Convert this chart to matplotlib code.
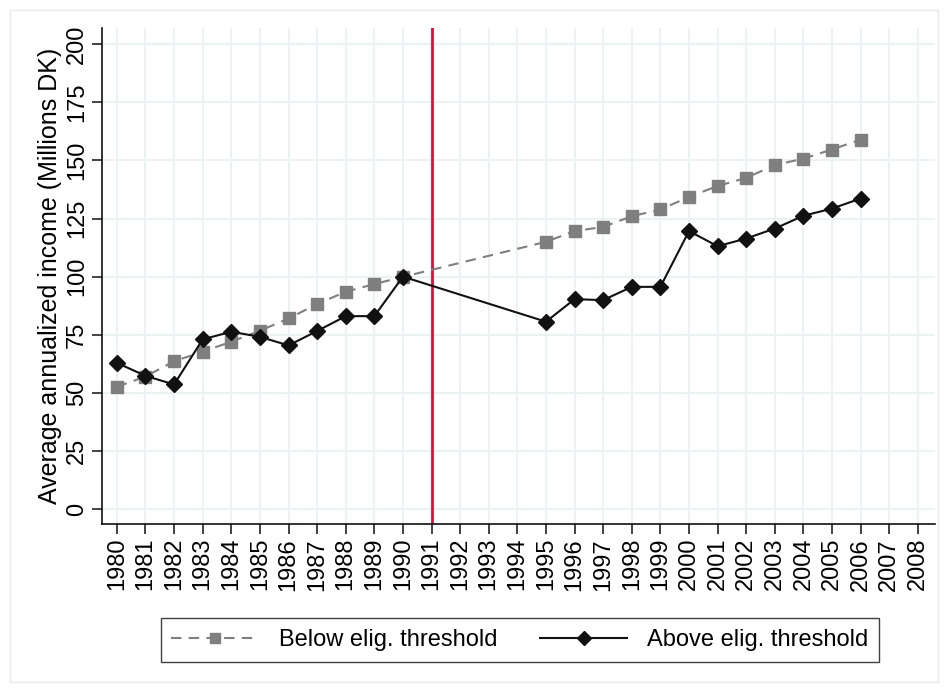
import numpy as np
import matplotlib.pyplot as plt
from matplotlib.patches import Rectangle

plt.rcParams['font.family'] = ['Liberation Sans', 'DejaVu Sans']

years = [1980, 1981, 1982, 1983, 1984, 1985, 1986, 1987, 1988, 1989, 1990,
         1995, 1996, 1997, 1998, 1999, 2000, 2001, 2002, 2003, 2004, 2005, 2006]
below = [52.6, 57.0, 63.6, 67.7, 72.0, 76.7, 82.0, 88.2, 93.5, 96.8, 99.9,
         115.0, 119.6, 121.4, 126.0, 128.9, 134.3, 139.0, 142.5, 148.0, 150.8, 154.7, 159.0]
above = [62.9, 57.3, 53.6, 73.0, 76.3, 74.1, 70.4, 76.6, 83.0, 83.0, 100.0,
         80.6, 90.3, 89.9, 95.6, 95.6, 119.6, 113.1, 116.4, 120.7, 126.2, 129.3, 133.6]
xticks = list(range(1980, 2009))
yticks = [0, 25, 50, 75, 100, 125, 150, 175, 200]
cutoff = 1991

fig = plt.figure(figsize=(9.48, 6.92), dpi=100)
fig.patches.append(Rectangle((0.011, 0.014), 0.978, 0.972, transform=fig.transFigure,
                             fill=False, edgecolor='#e6eaec', lw=1))
ax = fig.add_axes([102/948, 1 - 524/692, (935-102)/948, (524-28)/692])

ax.plot(years, below, color='#7f7f7f', ls=(0, (5, 3.5)), lw=1.5, marker='s',
        ms=8.5, mec='#7f7f7f', mfc='#7f7f7f', label='Below elig. threshold', zorder=3)
ax.plot(years, above, color='#111111', lw=1.5, marker='D', ms=8.5,
        mec='#111111', mfc='#111111', label='Above elig. threshold', zorder=4)
ax.axvline(cutoff, color='#d0143c', lw=2, zorder=2)

ax.set_xlim(1979.48, 2008.6)
ax.set_ylim(-6.45, 207)
ax.set_xticks(xticks)
ax.set_xticklabels([str(y) for y in xticks], rotation=90, fontsize=17)
ax.set_yticks(yticks)
ax.set_yticklabels([str(v) for v in yticks], rotation=90, va='center', fontsize=17)
ax.set_ylabel('Average annualized income (Millions DK)', fontsize=18, labelpad=3)
ax.grid(True, color='#eaf2f3', lw=1.5, zorder=0)
ax.set_axisbelow(True)
ax.tick_params(direction='out', length=7, width=1.2, color='#222222', pad=3)
for s in ['top', 'right']:
    ax.spines[s].set_visible(False)
for s in ['left', 'bottom']:
    ax.spines[s].set_linewidth(1.2)
    ax.spines[s].set_color('#111111')

leg = fig.legend(loc='center', bbox_to_anchor=(520/948, 1 - 640/692), ncol=2,
                 fontsize=17, frameon=True, fancybox=False, edgecolor='#111111',
                 handlelength=3.7, columnspacing=1.8, borderpad=0.45,
                 handletextpad=0.85, markerscale=0.85)
leg.get_frame().set_linewidth(1.0)

fig.savefig('out.png', dpi=100)
